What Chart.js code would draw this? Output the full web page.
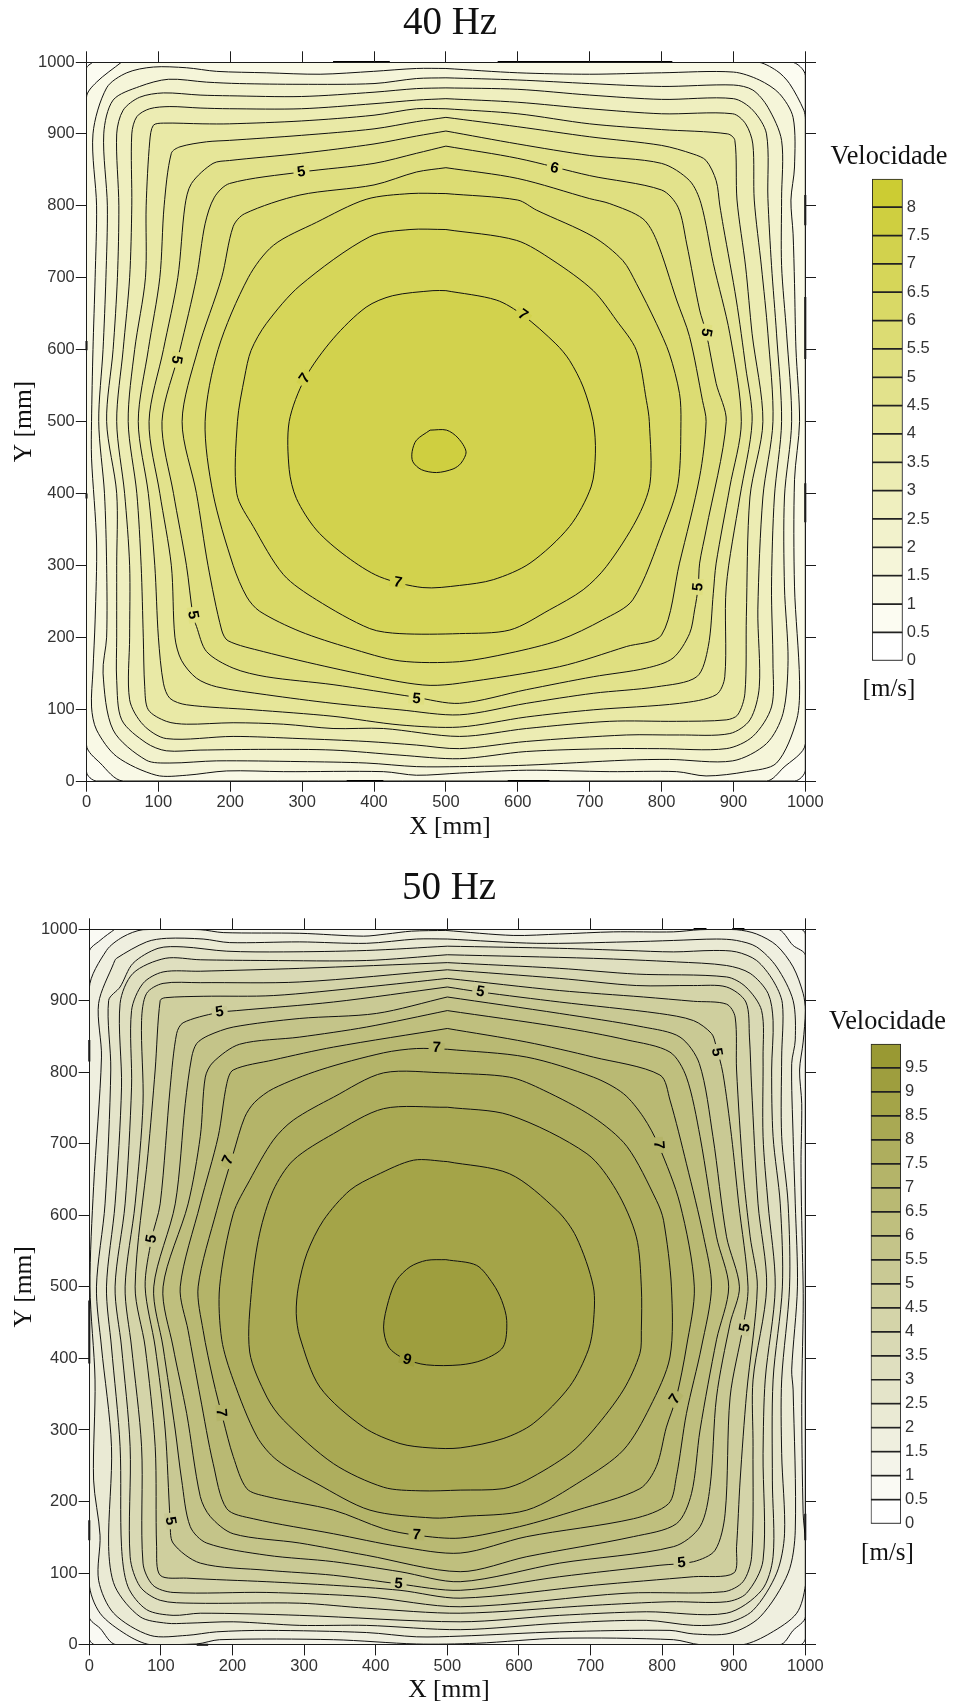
<!DOCTYPE html>
<html lang="pt">
<head>
<meta charset="utf-8">
<title>Velocidade 40 Hz / 50 Hz</title>
<script src="https://cdn.jsdelivr.net/npm/chart.js@4/dist/chart.umd.min.js"></script>
<style>
  html, body { margin: 0; background: #fff; }
  body { position: relative; width: 955px; height: 1706px; overflow: hidden; }
  canvas { position: absolute; display: block; }
</style>
</head>
<body>
<canvas id="plate40" style="left:0;top:0"></canvas>
<canvas id="plate50" style="left:0;top:865px"></canvas>
<canvas id="bar40" style="left:823px;top:141px"></canvas>
<canvas id="bar50" style="left:820px;top:1006px"></canvas>
<script>
// Isolinhas: [x, y] em mm, no sentido horário a partir do topo
const axisTicks = [0, 100, 200, 300, 400, 500, 600, 700, 800, 900, 1000];

const levels40 = [0.5, 1, 1.5, 2, 2.5, 3, 3.5, 4, 4.5, 5, 5.5, 6, 6.5, 7, 7.5];
const c40_05 = [[9,1000],[980,1000],[1000,981],[1000,15],[985,0],[14,0],[0,13],[0,991]];
const c40_10 = [[49,1000],[932,1000],[960,988],[978,970],[998,933],[1000,920],[1000,52],[969,18],[946,0],[51,0],[19,25],[0,50],[0,951],[14,972]];
const c40_15 = [[500,991],[600,985],[700,983],[800,985],[900,986],[936,975],[964,956],[983,923],[985,854],[980,808],[983,761],[985,692],[987,601],[992,500],[985,419],[985,270],[992,140],[988,85],[960,25],[918,13],[862,7],[821,13],[728,13],[612,15],[519,11],[459,8],[413,13],[274,13],[195,14],[139,8],[97,8],[42,34],[14,71],[7,103],[9,154],[12,224],[14,331],[7,449],[7,500],[9,600],[12,700],[14,800],[9,900],[28,964],[56,985],[93,993],[139,992],[181,987],[250,985],[325,983],[399,987],[459,991]];
const c40_20 = [[500,978],[600,975],[700,970],[800,966],[900,968],[927,961],[948,937],[967,891],[967,810],[967,717],[974,622],[981,500],[971,395],[971,270],[976,168],[969,94],[946,52],[899,28],[811,30],[751,29],[612,22],[519,20],[459,20],[389,25],[297,27],[181,28],[116,25],[83,29],[37,71],[23,150],[28,200],[28,300],[25,400],[17,500],[23,600],[27,700],[29,800],[24,900],[37,947],[74,966],[114,976],[167,972],[213,970],[297,969],[400,970],[459,977]];
const c40_25 = [[500,964],[600,962],[700,954],[800,948],[900,949],[927,933],[946,900],[948,810],[953,717],[960,622],[967,500],[957,395],[953,270],[955,164],[953,103],[927,62],[890,45],[797,45],[728,45],[612,41],[519,31],[436,36],[343,43],[250,44],[158,43],[111,42],[83,53],[49,85],[42,140],[42,200],[42,300],[42,400],[28,500],[37,600],[43,700],[45,800],[42,900],[51,933],[74,951],[107,957],[158,954],[199,953],[299,952],[400,958],[459,963]];
const c40_30 = [[500,949],[600,944],[700,935],[800,928],[899,928],[917,914],[927,886],[929,808],[939,715],[948,622],[955,500],[941,395],[934,238],[936,131],[923,85],[895,66],[825,64],[751,64],[612,55],[519,45],[459,50],[389,55],[297,59],[204,62],[111,59],[79,78],[60,113],[60,200],[60,300],[53,400],[42,500],[51,600],[60,700],[63,800],[63,900],[70,924],[88,935],[116,938],[158,936],[199,935],[299,935],[400,942],[459,947]];
const c40_35 = [[500,935],[600,928],[700,914],[800,906],[892,900],[902,891],[905,808],[917,715],[926,622],[941,500],[923,395],[918,229],[916,122],[906,92],[890,85],[821,83],[728,83],[612,73],[519,62],[413,73],[343,73],[274,79],[204,81],[139,79],[111,83],[86,99],[81,131],[79,200],[76,300],[70,400],[58,500],[67,600],[82,700],[83,800],[88,890],[93,912],[107,915],[162,914],[199,914],[299,918],[400,926],[459,935]];
const c40_40 = [[500,923],[600,910],[700,896],[800,884],[844,872],[862,863],[876,835],[881,801],[886,771],[904,669],[917,576],[926,500],[909,395],[890,270],[888,145],[876,120],[825,108],[705,99],[612,89],[519,75],[436,78],[343,90],[232,99],[139,106],[116,115],[107,136],[100,200],[95,300],[86,400],[72,500],[86,600],[102,700],[108,800],[118,873],[130,882],[167,889],[199,891],[299,898],[400,907],[459,917]];
const c40_45 = [[500,904],[600,886],[700,870],[800,859],[839,835],[855,803],[872,720],[895,622],[911,500],[895,409],[876,303],[872,261],[865,187],[849,145],[793,131],[705,122],[612,108],[519,92],[436,99],[343,108],[250,120],[181,131],[153,143],[132,168],[123,200],[118,300],[102,400],[87,500],[107,600],[127,700],[137,800],[146,831],[176,859],[199,863],[299,873],[400,886],[459,897]];
const c40_50 = [[500,883],[600,866],[700,842],[800,822],[823,798],[835,747],[853,655],[862,624],[876,553],[890,500],[862,349],[853,303],[851,270],[846,238],[839,205],[816,171],[779,157],[705,145],[612,127],[519,108],[455,117],[343,134],[250,145],[204,157],[167,180],[153,215],[148,231],[139,300],[121,400],[105,500],[130,600],[153,700],[165,775],[178,812],[199,831],[299,847],[400,859],[459,873]];
const c40_55 = [[500,853],[600,838],[700,810],[728,803],[774,782],[793,752],[821,669],[839,618],[857,529],[862,500],[853,423],[825,303],[800,203],[751,187],[658,159],[519,136],[478,133],[436,138],[343,157],[246,180],[197,195],[188,210],[169,300],[153,400],[133,500],[155,600],[188,700],[204,771],[220,789],[297,815],[400,829],[459,847]];
const c40_60 = [[500,817],[600,808],[626,794],[705,757],[746,724],[765,692],[793,636],[811,594],[825,539],[827,500],[823,414],[802,349],[760,252],[718,224],[658,196],[589,178],[519,166],[436,167],[366,185],[297,208],[241,236],[223,256],[204,300],[176,400],[165,500],[183,600],[225,700],[260,745],[320,777],[389,809],[450,817]];
const c40_65 = [[500,767],[598,752],[649,724],[705,682],[737,641],[765,599],[779,529],[783,500],[784,414],[765,363],[723,298],[691,266],[644,238],[589,210],[519,205],[436,205],[394,212],[320,252],[274,287],[232,354],[209,400],[210,500],[220,562],[229,599],[250,636],[297,689],[394,757],[450,767]];
const c40_70 = [[500,682],[570,669],[607,648],[653,608],[672,585],[691,548],[705,500],[708,456],[702,409],[672,354],[617,303],[566,280],[519,272],[468,269],[408,284],[362,312],[320,349],[292,393],[282,433],[282,500],[304,560],[343,615],[389,659],[426,675],[482,682]];
const c40_75 = [[478,488],[501,488],[517,477],[528,458],[521,442],[510,434],[487,429],[466,433],[454,444],[453,458],[459,474]];
const curves40 = [c40_05, c40_10, c40_15, c40_20, c40_25, c40_30, c40_35, c40_40, c40_45, c40_50, c40_55, c40_60, c40_65, c40_70, c40_75];
const edgeRuns40 = [[[343,1000],[422,1000]],[[572,1000],[815,1000]],[[1000,815],[1000,773]],[[1000,673],[1000,587]],[[1000,414],[1000,360]],[[0,612],[0,599]],[[0,400],[0,393]],[[362,0],[413,0]],[[586,0],[644,0]]];
// x, y, texto, rotação, nível
const labels40 = [[299,847,'5',-8,5],[651,852,'6',12,5],[125,586,'5',100,5],[304,560,'7',-55,7],[607,648,'7',35,7],[862,624,'5',100,5],[433,276,'7',10,7],[459,114,'5',5,5],[148,231,'5',80,5],[851,270,'5',-85,5]];

const levels50 = [0.5, 1, 1.5, 2, 2.5, 3, 3.5, 4, 4.5, 5, 5.5, 6, 6.5, 7, 7.5, 8, 8.5, 9];
const c50_05 = [[2,1000],[993,1000],[1000,993],[1000,9],[993,0],[8,0],[0,9],[0,998]];
const c50_10 = [[36,1000],[960,1000],[983,977],[1000,963],[1000,39],[983,20],[964,0],[38,0],[15,23],[0,39],[0,968],[15,984]];
const c50_15 = [[498,998],[592,991],[657,993],[732,996],[816,996],[853,999],[904,999],[932,993],[960,977],[983,947],[997,910],[1000,886],[997,842],[992,803],[995,756],[994,672],[995,593],[997,500],[997,463],[995,337],[997,183],[1000,146],[1000,83],[988,44],[951,16],[913,0],[853,0],[816,7],[657,9],[541,2],[457,1],[341,7],[182,7],[150,1],[85,0],[52,14],[15,44],[0,86],[0,917],[24,970],[47,989],[75,999],[155,999],[187,995],[294,994],[383,990],[415,993],[450,997]];
const c50_20 = [[500,986],[625,980],[751,982],[816,984],[876,986],[904,984],[932,975],[960,947],[983,900],[986,845],[981,812],[983,710],[986,616],[989,500],[981,384],[983,356],[986,160],[976,100],[937,39],[895,16],[844,15],[811,20],[657,18],[518,12],[457,11],[387,17],[248,20],[178,18],[136,13],[85,13],[34,44],[13,90],[15,153],[6,230],[8,370],[1,500],[6,640],[17,821],[13,896],[34,952],[38,959],[80,982],[108,987],[159,986],[196,981],[294,982],[387,980],[457,986]];
const c50_25 = [[500,976],[657,973],[751,970],[816,968],[872,970],[904,968],[932,956],[955,928],[968,896],[967,821],[967,710],[976,616],[978,500],[967,370],[967,267],[971,155],[960,100],[927,48],[890,30],[844,27],[778,34],[657,30],[518,21],[387,27],[294,27],[201,32],[136,30],[108,30],[71,39],[36,81],[27,137],[31,277],[17,416],[10,500],[22,616],[30,803],[27,900],[43,919],[61,952],[96,973],[131,975],[192,969],[271,968],[387,970]];
const c50_30 = [[500,964],[704,959],[820,954],[890,949],[923,938],[948,910],[955,872],[953,803],[955,710],[965,616],[968,500],[955,370],[954,230],[955,123],[939,76],[890,44],[778,46],[657,41],[518,32],[294,41],[155,44],[117,41],[80,49],[54,81],[45,137],[43,277],[31,416],[24,500],[36,616],[45,779],[43,896],[61,938],[106,959],[155,957],[248,956],[387,956]];
const c50_35 = [[500,953],[657,945],[764,937],[890,933],[917,919],[939,886],[941,821],[941,710],[948,616],[958,500],[944,370],[941,267],[941,118],[918,72],[890,60],[811,60],[704,55],[518,44],[387,51],[294,58],[145,58],[99,62],[71,81],[57,123],[57,277],[45,416],[36,500],[50,616],[59,779],[59,886],[75,924],[103,940],[155,941],[294,945]];
const c50_40 = [[500,943],[657,931],[764,921],[844,921],[890,919],[917,898],[922,849],[925,779],[934,616],[946,500],[927,370],[927,277],[925,123],[913,88],[886,74],[751,72],[518,53],[387,67],[248,73],[117,73],[89,83],[75,114],[73,277],[59,416],[50,500],[64,616],[75,756],[73,872],[80,910],[103,924],[155,925],[294,926]];
const c50_45 = [[500,931],[657,914],[774,905],[844,899],[890,895],[902,877],[904,803],[913,663],[923,570],[933,500],[918,351],[909,230],[904,137],[900,100],[844,95],[704,83],[518,65],[434,76],[341,83],[248,88],[136,93],[99,97],[94,137],[92,277],[78,416],[64,500],[82,686],[92,803],[99,900],[106,904],[159,906],[257,907],[387,919]];
const c50_50 = [[500,919],[546,912],[657,898],[796,882],[844,872],[869,854],[875,838],[885,798],[897,710],[907,616],[920,500],[913,444],[895,346],[888,183],[874,132],[844,116],[797,111],[657,95],[518,76],[432,85],[341,97],[248,104],[155,114],[117,142],[113,173],[106,300],[92,416],[78,500],[87,567],[99,616],[113,779],[122,854],[131,869],[178,883],[206,886],[341,898]];
const c50_55 = [[500,905],[657,882],[774,863],[825,849],[852,812],[871,710],[890,570],[908,500],[895,449],[876,346],[867,221],[853,165],[816,137],[657,114],[518,88],[434,102],[341,116],[248,125],[164,142],[141,165],[129,230],[120,300],[103,416],[90,500],[120,616],[134,756],[143,821],[150,840],[166,851],[201,863],[294,875],[401,882]];
const c50_60 = [[500,886],[657,863],[751,845],[811,828],[834,793],[853,710],[876,570],[893,500],[876,426],[853,300],[841,211],[820,169],[760,151],[611,123],[518,102],[387,125],[294,142],[201,155],[169,179],[155,207],[136,323],[117,416],[103,500],[138,616],[155,710],[162,793],[173,814],[210,839],[294,849],[387,863]];
const c50_65 = [[500,861],[611,842],[704,821],[797,796],[811,761],[834,672],[858,570],[869,500],[855,416],[834,323],[820,235],[809,197],[760,176],[611,151],[518,128],[434,137],[341,155],[229,176],[192,190],[173,253],[155,346],[138,439],[127,500],[155,616],[180,710],[192,784],[201,803],[257,817],[341,835]];
const c50_70 = [[500,832],[611,821],[704,793],[746,770],[774,737],[795,698],[825,616],[845,500],[834,416],[820,346],[806,304],[792,249],[769,218],[681,188],[601,165],[518,149],[457,153],[411,162],[341,188],[248,207],[220,218],[201,263],[187,314],[173,370],[159,439],[152,500],[178,607],[201,686],[217,737],[231,758],[257,777],[322,803],[411,827],[457,833]];
const c50_75 = [[500,799],[587,793],[634,775],[704,737],[751,696],[792,621],[802,593],[813,500],[811,402],[783,332],[746,272],[689,230],[611,188],[518,179],[480,177],[392,188],[318,225],[262,258],[234,291],[201,370],[185,426],[182,500],[201,602],[224,649],[257,705],[285,733],[341,765],[411,799]];
const c50_80 = [[500,751],[587,740],[695,686],[736,635],[764,570],[771,500],[771,439],[769,407],[746,356],[704,300],[671,267],[611,230],[578,218],[518,216],[462,215],[411,220],[341,253],[271,314],[248,346],[224,409],[227,500],[238,575],[257,635],[285,677],[341,714],[411,749]];
const c50_85 = [[500,675],[587,658],[653,607],[680,570],[704,500],[704,449],[697,412],[671,361],[620,309],[578,288],[518,275],[476,275],[434,281],[383,304],[322,360],[294,430],[289,463],[292,500],[304,547],[327,593],[364,635],[401,656],[453,677]];
const c50_90 = [[498,538],[541,530],[564,504],[576,481],[583,453],[578,416],[550,398],[518,391],[471,391],[439,400],[418,416],[411,444],[418,481],[429,509],[448,528],[471,537]];
const curves50 = [c50_05, c50_10, c50_15, c50_20, c50_25, c50_30, c50_35, c50_40, c50_45, c50_50, c50_55, c50_60, c50_65, c50_70, c50_75, c50_80, c50_85, c50_90];
const edgeRuns50 = [[[0,845],[0,815]],[[0,481],[0,393]],[[0,174],[0,146]],[[150,0],[166,0]],[[844,1000],[862,1000]],[[898,1000],[915,1000]],[[1000,183],[1000,146]]];
const labels50 = [[182,884,'5',-8,5],[546,912,'5',10,5],[485,834,'7',3,7],[87,567,'5',-80,5],[194,677,'7',-65,7],[876,828,'5',80,5],[795,698,'7',85,7],[444,398,'9',15,9],[184,324,'7',85,7],[113,173,'5',80,5],[457,153,'7',3,7],[432,85,'5',5,5],[818,343,'7',-55,7],[916,443,'5',-80,5],[827,114,'5',-5,5]];

const bands40 = [0, 0.5, 1, 1.5, 2, 2.5, 3, 3.5, 4, 4.5, 5, 5.5, 6, 6.5, 7, 7.5, 8];
const bands50 = [0, 0.5, 1, 1.5, 2, 2.5, 3, 3.5, 4, 4.5, 5, 5.5, 6, 6.5, 7, 7.5, 8, 8.5, 9, 9.5];
const bandStep = 0.5;

const INK = '#1c1c1c';
const SANS = '"Liberation Sans", Arial, sans-serif';
const SERIF = '"Liberation Serif", "Times New Roman", serif';

// branco até a cor da faixa mais alta
function bandColor(value, bands, top) {
  const t = bands.indexOf(value) / (bands.length - 1);
  const mix = (c) => Math.round(255 + (c - 255) * t);
  return `rgb(${mix(top[0])},${mix(top[1])},${mix(top[2])})`;
}

const contourLabelPlugin = {
  id: 'contourLabels',
  afterDatasetsDraw(chart, args, opts) {
    const { ctx, scales: { x, y } } = chart;
    ctx.save();
    ctx.font = 'bold 15px ' + SANS;
    ctx.textAlign = 'center';
    ctx.textBaseline = 'middle';
    opts.items.forEach(([vx, vy, text, rot, level]) => {
      ctx.save();
      ctx.translate(x.getPixelForValue(vx), y.getPixelForValue(vy));
      ctx.rotate(rot * Math.PI / 180);
      ctx.fillStyle = bandColor(level, opts.bands, opts.top);
      ctx.fillRect(-8, -5, 16, 10);
      ctx.fillStyle = '#000';
      ctx.fillText(text, 0, 0);
      ctx.restore();
    });
    ctx.restore();
  }
};

function plateChart(id, cfg) {
  const canvas = document.getElementById(id);
  canvas.width = cfg.width;
  canvas.height = cfg.height;

  const contourSets = cfg.levels.map((level, i) => {
    const pts = cfg.curves[i].concat([cfg.curves[i][0]]);
    return {
      label: String(level),
      data: pts.map(([x, y]) => ({ x, y })),
      showLine: true,
      fill: 'shape',
      backgroundColor: bandColor(level, cfg.bands, cfg.top),
      borderColor: '#111',
      borderWidth: 1,
      tension: 0.3,
      pointRadius: 0
    };
  }).reverse();

  const runSets = cfg.runs.map((run) => ({
    label: 'borda',
    data: run.map(([x, y]) => ({ x, y })),
    showLine: true,
    fill: false,
    borderColor: '#000',
    borderWidth: 2,
    pointRadius: 0,
    clip: 3
  }));

  const sideGrid = { drawOnChartArea: false, tickLength: 10.7, color: INK, z: 1 };
  const side = (position, visible, size, extra) => Object.assign({
    type: 'linear', position, min: 0, max: 1000,
    grid: sideGrid,
    border: { color: INK, width: 1, z: 1 },
    afterBuildTicks(axis) { axis.ticks = axisTicks.map((value) => ({ value })); },
    ticks: { display: visible, color: '#333', padding: 1, maxRotation: 0, autoSkip: false, font: { family: SANS, size: 16.5 }, callback: (v) => v },
    afterFit(axis) { if (axis.isHorizontal()) { axis.height = size; } else { axis.width = size; } }
  }, extra);

  return new Chart(canvas, {
    type: 'scatter',
    data: { datasets: runSets.concat(contourSets) },
    plugins: [contourLabelPlugin],
    options: {
      responsive: false,
      animation: false,
      events: [],
      layout: { padding: 0 },
      scales: {
        x: side('bottom', true, cfg.bottomBox),
        y: side('left', true, cfg.leftBox, {
          title: { display: true, text: 'Y [mm]', color: '#111', padding: { top: 9.4, bottom: 0 }, font: { family: SERIF, size: 25.5 } }
        }),
        x2: side('top', false, 10.7),
        y2: side('right', false, cfg.rightBox)
      },
      plugins: {
        legend: { display: false },
        tooltip: { enabled: false },
        filler: { drawTime: 'beforeDatasetDraw' },
        title: {
          display: true,
          text: cfg.title,
          color: '#111',
          padding: { top: 0, bottom: cfg.titleGap },
          font: { family: SERIF, size: 39, weight: 'normal' }
        },
        subtitle: {
          display: true,
          position: 'bottom',
          text: 'X [mm]',
          color: '#111',
          padding: 0,
          font: { family: SERIF, size: 25.5, weight: 'normal' }
        },
        contourLabels: { items: cfg.labels, bands: cfg.bands, top: cfg.top }
      }
    }
  });
}

function colorBar(id, cfg) {
  const canvas = document.getElementById(id);
  canvas.width = cfg.width;
  canvas.height = cfg.height;
  const maxValue = cfg.bands[cfg.bands.length - 1] + bandStep;

  return new Chart(canvas, {
    type: 'bar',
    data: {
      labels: [''],
      datasets: cfg.bands.map((b) => ({
        label: String(b),
        data: [bandStep],
        backgroundColor: bandColor(b, cfg.bands, cfg.top),
        borderColor: '#222',
        borderWidth: 1.2,
        borderSkipped: false,
        categoryPercentage: 1,
        barPercentage: 1
      }))
    },
    options: {
      responsive: false,
      animation: false,
      events: [],
      layout: { padding: 0 },
      scales: {
        x: {
          stacked: true,
          grid: { display: false, drawTicks: false, tickLength: 0 },
          border: { display: false },
          ticks: { display: false }
        },
        y: {
          stacked: true,
          position: 'right',
          min: 0,
          max: maxValue,
          grid: { display: false, drawTicks: false, tickLength: 0 },
          border: { display: false },
          afterFit(axis) { axis.width = cfg.rightBox; },
          ticks: {
            stepSize: bandStep,
            autoSkip: false,
            padding: 4,
            color: '#333',
            font: { family: SANS, size: 16.5 },
            callback: (v) => (v === maxValue ? '' : v)
          }
        },
        spacer: {
          type: 'linear',
          axis: 'y',
          position: 'left',
          grid: { display: false, drawTicks: false },
          border: { display: false },
          ticks: { display: false },
          afterFit(axis) { axis.width = cfg.leftBox; }
        }
      },
      plugins: {
        legend: { display: false },
        tooltip: { enabled: false },
        title: {
          display: true,
          text: 'Velocidade',
          color: '#111',
          padding: { top: 0, bottom: 6.3 },
          font: { family: SERIF, size: 26.3, weight: 'normal' }
        },
        subtitle: {
          display: true,
          position: 'bottom',
          text: '[m/s]',
          color: '#111',
          padding: { top: cfg.unitGap, bottom: 0 },
          font: { family: SERIF, size: 25, weight: 'normal' }
        }
      }
    }
  });
}

plateChart('plate40', {
  width: 900, height: 843, title: '40 Hz', titleGap: 4.5,
  leftBox: 86.5, rightBox: 94.7, bottomBox: 31.4,
  levels: levels40, curves: curves40, runs: edgeRuns40, labels: labels40,
  bands: bands40, top: [204, 204, 51]
});
plateChart('plate50', {
  width: 898, height: 841, title: '50 Hz', titleGap: 6.5,
  leftBox: 89.3, rightBox: 92.7, bottomBox: 30.7,
  levels: levels50, curves: curves50, runs: edgeRuns50, labels: labels50,
  bands: bands50, top: [153, 153, 51]
});
colorBar('bar40', {
  width: 132, height: 563, leftBox: 49, rightBox: 52.3, unitGap: 13.3,
  bands: bands40, top: [204, 204, 51]
});
colorBar('bar50', {
  width: 135, height: 562, leftBox: 50.7, rightBox: 54, unitGap: 14.3,
  bands: bands50, top: [153, 153, 51]
});
</script>
</body>
</html>
